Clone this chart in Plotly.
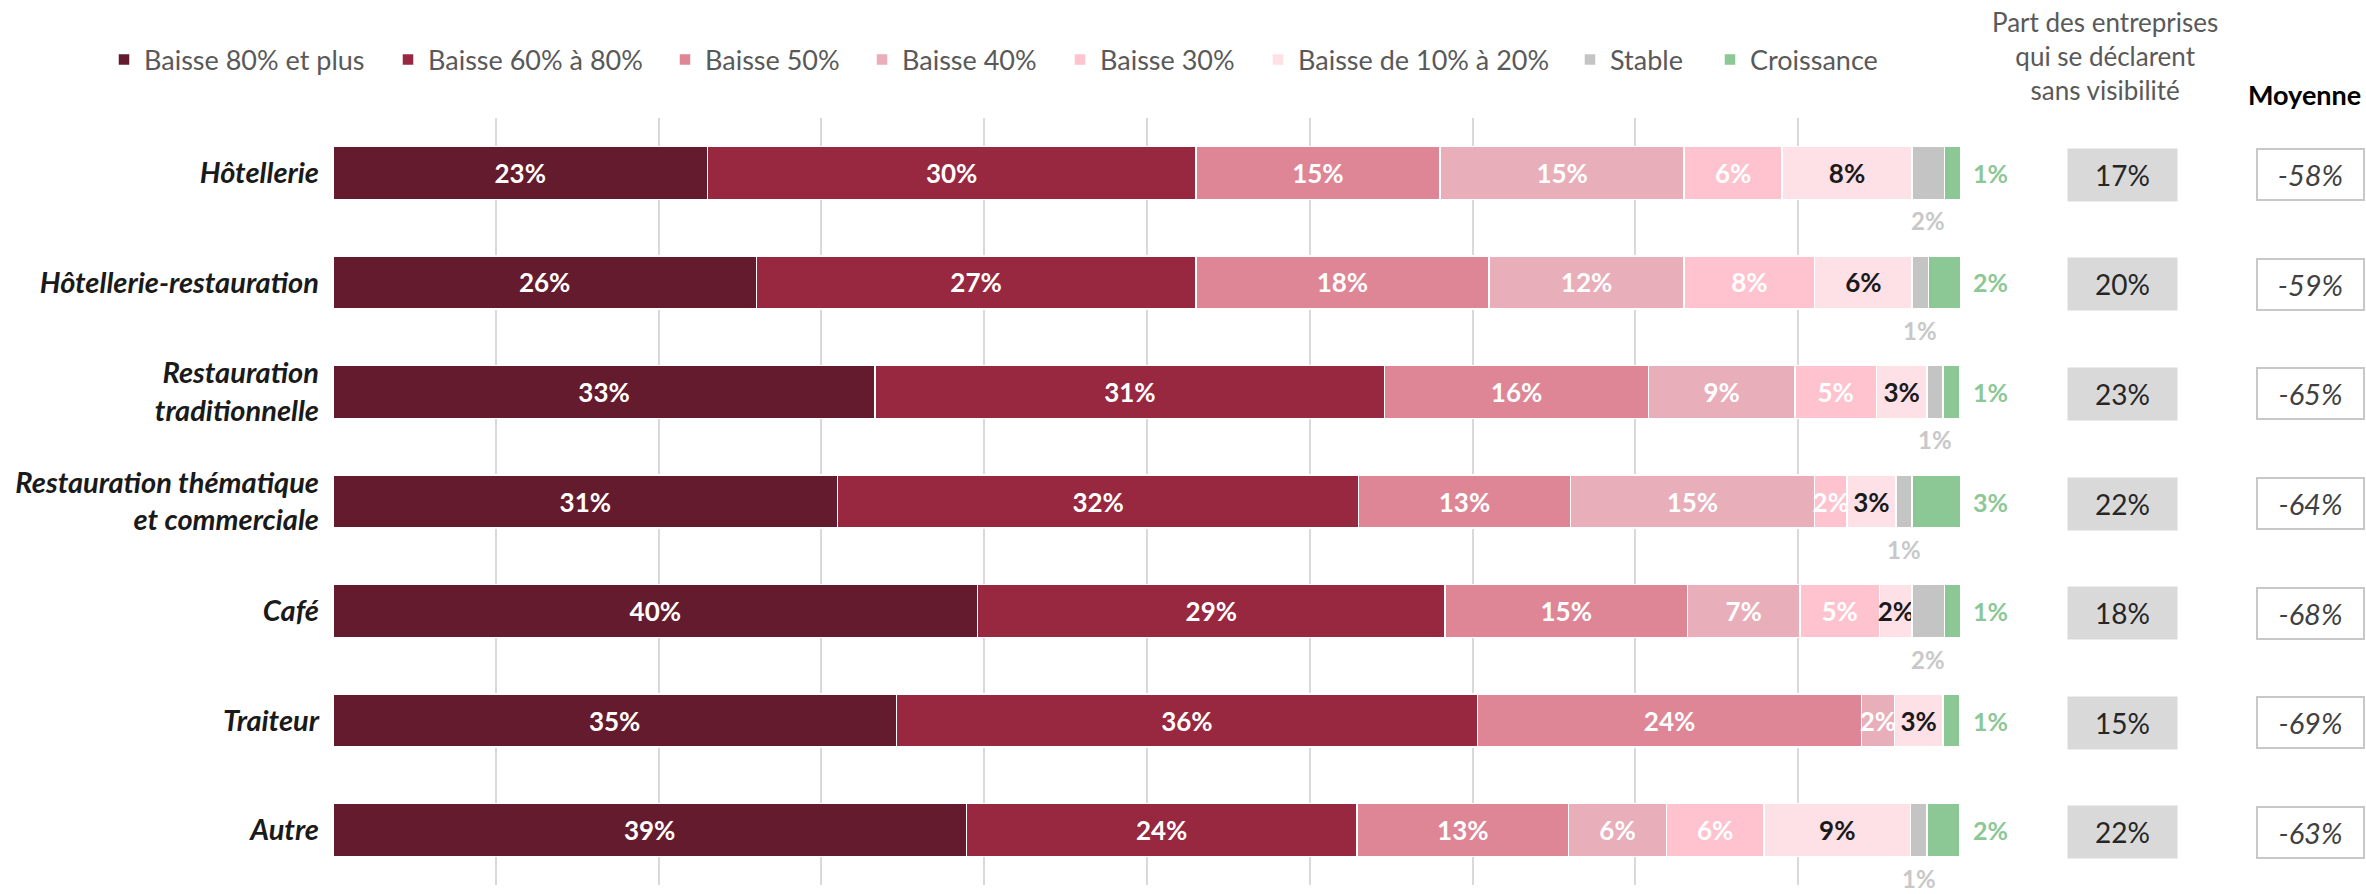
import plotly.graph_objects as go

categories = ["Hôtellerie", "Hôtellerie-restauration", "Restauration<br>traditionnelle",
              "Restauration thématique<br>et commerciale", "Café", "Traiteur", "Autre"]
series_names = ["Baisse 80% et plus", "Baisse 60% à 80%", "Baisse 50%", "Baisse 40%",
                "Baisse 30%", "Baisse de 10% à 20%", "Stable", "Croissance"]

baisse_80 = [23, 26, 33.3, 31, 39.6, 34.6, 38.9]
baisse_60_80 = [30, 27, 31.3, 32, 28.7, 35.7, 24]
baisse_50 = [15, 18, 16.2, 13, 14.9, 23.6, 13]
baisse_40 = [15, 12, 9.0, 15, 6.9, 2.0, 6]
baisse_30 = [6, 8, 5.0, 2, 4.9, 0, 6]
baisse_10_20 = [8, 6, 3.1, 3, 2.0, 3.0, 9]
stable = [2, 1, 1.0, 1, 2, 0, 1]
croissance = [1, 2, 1.0, 3, 1, 1, 2]

sans_visibilite = [17, 20, 23, 22, 18, 15, 22]
moyenne = [-58, -59, -65, -64, -68, -69, -63]

colors = ["#651B2E", "#972840", "#DE8696", "#E8AEBA", "#FEC3CE", "#FEE0E7", "#C4C4C4", "#8CC796"]
label_colors = ["white", "white", "white", "white", "white", "#1A1A1A", None, None]
# left edge (px) of each legend entry
legend_x_px = [104, 388, 665, 862, 1060, 1258, 1570, 1710]

FONT = "Lato, 'Open Sans', sans-serif"
W, H = 2366, 894

series = [baisse_80, baisse_60_80, baisse_50, baisse_40, baisse_30, baisse_10_20, stable, croissance]

fig = go.Figure()
legend_layouts = {}
for k, (name, vals, col, lcol) in enumerate(zip(series_names, series, colors, label_colors)):
    lname = "legend" if k == 0 else f"legend{k + 1}"
    if lcol is not None:
        txt = [f"{round(v)}%" if v > 0 else "" for v in vals]
    else:
        txt = None
    fig.add_trace(go.Bar(
        name=name, y=categories, x=vals, orientation="h", legend=lname,
        marker=dict(color=col, line=dict(color="white", width=1.5)),
        text=txt, textposition="inside", insidetextanchor="middle",
        constraintext="none", textangle=0, cliponaxis=False,
        textfont=dict(family=FONT, size=26, color=lcol if lcol else "white", weight="bold"),
        hoverinfo="x+name",
    ))
    legend_layouts[lname] = dict(
        orientation="h", xref="container", yref="container",
        x=legend_x_px[k] / W, xanchor="left", y=1 - 60 / H, yanchor="middle",
        bgcolor="rgba(0,0,0,0)",
        font=dict(family=FONT, size=27, color="#595959"),
    )

# labels outside bars
for i, cat in enumerate(categories):
    before = sum(s[i] for s in series[:6])
    if stable[i] > 0:
        fig.add_annotation(x=before + stable[i] / 2, y=cat, yshift=-48,
                           text=f"{round(stable[i])}%", showarrow=False,
                           font=dict(family=FONT, size=24, color="#C8C8C8", weight="bold"))
    fig.add_annotation(x=100, xshift=29, y=cat, text=f"{round(croissance[i])}%",
                       showarrow=False,
                       font=dict(family=FONT, size=25, color="#8CC796", weight="bold"))
    fig.add_annotation(xref="paper", x=1.0989, xanchor="center", y=cat, yshift=-2,
                       text=f"{sans_visibilite[i]}%",
                       showarrow=False, bgcolor="#D9D9D9", width=109, height=52, borderpad=0,
                       font=dict(family=FONT, size=28, color="#262626"))
    fig.add_annotation(xref="paper", x=1.2144, xanchor="center", y=cat, yshift=-2,
                       text=f"{moyenne[i]}%",
                       showarrow=False, bgcolor="white", bordercolor="#C8C8C8", borderwidth=2,
                       width=105, height=49, borderpad=0,
                       font=dict(family=FONT, size=29, color="#404040", style="italic"))

fig.add_annotation(xref="paper", yref="paper", x=1.0885, xanchor="center", y=1.0808,
                   yanchor="middle",
                   text="Part des entreprises<br>qui se déclarent<br>sans visibilité",
                   showarrow=False, align="center",
                   font=dict(family=FONT, size=26, color="#595959"))
fig.add_annotation(xref="paper", yref="paper", x=1.2113, xanchor="center", y=1.030,
                   yanchor="middle", text="Moyenne",
                   showarrow=False, font=dict(family=FONT, size=27, color="#000000", weight="bold"))

fig.update_layout(
    width=W, height=H,
    barmode="stack", bargap=0.516,
    plot_bgcolor="white", paper_bgcolor="white",
    margin=dict(l=333, r=405, t=118, b=9, autoexpand=False),
    font=dict(family=FONT, color="#595959"),
    showlegend=True,
    xaxis=dict(range=[0, 100], autorange=False, dtick=10, showgrid=True, gridcolor="#D9D9D9",
               gridwidth=1.5, showticklabels=False, zeroline=False, showline=False,
               fixedrange=True),
    yaxis=dict(categoryorder="array", categoryarray=categories,
               range=[len(categories) - 0.5, -0.5], autorange=False,
               showgrid=False, zeroline=False, showline=False, ticks="",
               ticklabelstandoff=13, fixedrange=True,
               tickfont=dict(family=FONT, size=29, color="#1A1A1A", weight="bold", style="italic")),
    **legend_layouts,
)

fig.write_html("out.html")
